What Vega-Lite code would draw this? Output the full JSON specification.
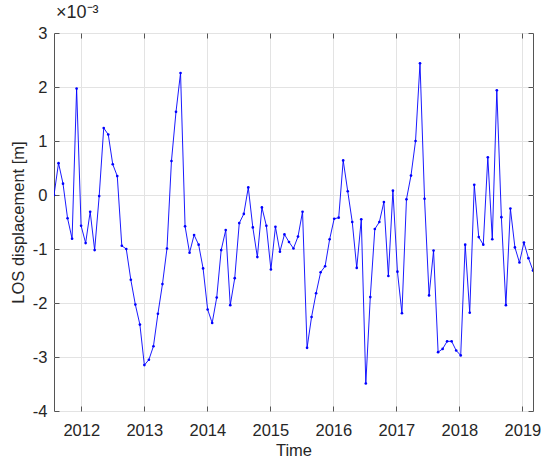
{
  "$schema": "https://vega.github.io/schema/vega-lite/v6.json",
  "width": 479,
  "height": 378,
  "autosize": "none",
  "padding": {"left": 54, "top": 33, "right": 8, "bottom": 49},
  "background": "white",
  "title": {"text": "×10⁻³", "anchor": "start", "frame": "group", "offset": 3, "dx": 2, "fontSize": 18, "font": "Liberation Sans", "fontWeight": "normal", "color": "#262626"},
  "config": {
    "view": {"stroke": "#555555", "strokeWidth": 1},
    "axis": {"labelFont": "Liberation Sans", "titleFont": "Liberation Sans", "labelFontSize": 16.5, "titleFontSize": 16.5, "labelColor": "#262626", "titleColor": "#262626", "titleFontWeight": "normal", "domain": false, "tickColor": "#555555", "gridColor": "#e3e3e3", "gridWidth": 1}
  },
  "data": {"values": [
    {"t": 2011.567, "v": 0.00000}, {"t": 2011.639, "v": 0.00059}, {"t": 2011.710, "v": 0.00021}, {"t": 2011.782, "v": -0.00043},
    {"t": 2011.854, "v": -0.00081}, {"t": 2011.926, "v": 0.00197}, {"t": 2011.997, "v": -0.00057}, {"t": 2012.069, "v": -0.00089},
    {"t": 2012.141, "v": -0.00031}, {"t": 2012.212, "v": -0.00102}, {"t": 2012.284, "v": -0.00002}, {"t": 2012.356, "v": 0.00124},
    {"t": 2012.428, "v": 0.00112}, {"t": 2012.499, "v": 0.00057}, {"t": 2012.571, "v": 0.00035}, {"t": 2012.643, "v": -0.00094},
    {"t": 2012.714, "v": -0.00100}, {"t": 2012.786, "v": -0.00157}, {"t": 2012.858, "v": -0.00203}, {"t": 2012.930, "v": -0.00240},
    {"t": 2013.001, "v": -0.00315}, {"t": 2013.073, "v": -0.00305}, {"t": 2013.145, "v": -0.00280}, {"t": 2013.216, "v": -0.00220},
    {"t": 2013.288, "v": -0.00165}, {"t": 2013.360, "v": -0.00099}, {"t": 2013.431, "v": 0.00063}, {"t": 2013.503, "v": 0.00154},
    {"t": 2013.575, "v": 0.00226}, {"t": 2013.647, "v": -0.00058}, {"t": 2013.718, "v": -0.00107}, {"t": 2013.790, "v": -0.00074},
    {"t": 2013.862, "v": -0.00092}, {"t": 2013.933, "v": -0.00136}, {"t": 2014.005, "v": -0.00212}, {"t": 2014.077, "v": -0.00237},
    {"t": 2014.149, "v": -0.00190}, {"t": 2014.220, "v": -0.00102}, {"t": 2014.292, "v": -0.00065}, {"t": 2014.364, "v": -0.00204},
    {"t": 2014.435, "v": -0.00154}, {"t": 2014.507, "v": -0.00052}, {"t": 2014.579, "v": -0.00035}, {"t": 2014.650, "v": 0.00014},
    {"t": 2014.722, "v": -0.00060}, {"t": 2014.794, "v": -0.00115}, {"t": 2014.866, "v": -0.00023}, {"t": 2014.937, "v": -0.00057},
    {"t": 2015.009, "v": -0.00138}, {"t": 2015.081, "v": -0.00059}, {"t": 2015.152, "v": -0.00105}, {"t": 2015.224, "v": -0.00073},
    {"t": 2015.296, "v": -0.00087}, {"t": 2015.367, "v": -0.00099}, {"t": 2015.439, "v": -0.00077}, {"t": 2015.511, "v": -0.00031},
    {"t": 2015.583, "v": -0.00283}, {"t": 2015.654, "v": -0.00226}, {"t": 2015.726, "v": -0.00182}, {"t": 2015.798, "v": -0.00143},
    {"t": 2015.869, "v": -0.00132}, {"t": 2015.941, "v": -0.00082}, {"t": 2016.013, "v": -0.00044}, {"t": 2016.085, "v": -0.00042},
    {"t": 2016.156, "v": 0.00064}, {"t": 2016.228, "v": 0.00007}, {"t": 2016.300, "v": -0.00050}, {"t": 2016.371, "v": -0.00135},
    {"t": 2016.443, "v": -0.00045}, {"t": 2016.515, "v": -0.00349}, {"t": 2016.586, "v": -0.00189}, {"t": 2016.658, "v": -0.00063},
    {"t": 2016.730, "v": -0.00050}, {"t": 2016.802, "v": -0.00013}, {"t": 2016.873, "v": -0.00150}, {"t": 2016.945, "v": 0.00008},
    {"t": 2017.017, "v": -0.00142}, {"t": 2017.088, "v": -0.00219}, {"t": 2017.160, "v": -0.00008}, {"t": 2017.232, "v": 0.00036},
    {"t": 2017.304, "v": 0.00100}, {"t": 2017.375, "v": 0.00244}, {"t": 2017.447, "v": -0.00007}, {"t": 2017.519, "v": -0.00186},
    {"t": 2017.590, "v": -0.00103}, {"t": 2017.662, "v": -0.00291}, {"t": 2017.734, "v": -0.00285}, {"t": 2017.805, "v": -0.00271},
    {"t": 2017.877, "v": -0.00271}, {"t": 2017.949, "v": -0.00288}, {"t": 2018.021, "v": -0.00297}, {"t": 2018.092, "v": -0.00092},
    {"t": 2018.164, "v": -0.00218}, {"t": 2018.236, "v": 0.00019}, {"t": 2018.307, "v": -0.00078}, {"t": 2018.379, "v": -0.00092},
    {"t": 2018.451, "v": 0.00070}, {"t": 2018.522, "v": -0.00082}, {"t": 2018.594, "v": 0.00194}, {"t": 2018.666, "v": -0.00041},
    {"t": 2018.738, "v": -0.00204}, {"t": 2018.809, "v": -0.00025}, {"t": 2018.881, "v": -0.00097}, {"t": 2018.953, "v": -0.00125},
    {"t": 2019.024, "v": -0.00088}, {"t": 2019.096, "v": -0.00117}, {"t": 2019.168, "v": -0.00140}
  ]},
  "layer": [
    {
      "mark": {"type": "line", "color": "#0000ff", "strokeWidth": 0.9, "clip": true, "point": {"filled": true, "size": 7, "color": "#0000ff"}},
      "encoding": {
        "x": {"field": "t", "type": "quantitative", "title": "Time",
              "scale": {"domain": [2011.567, 2019.168], "nice": false, "zero": false},
              "axis": {"orient": "bottom", "values": [2012, 2013, 2014, 2015, 2016, 2017, 2018, 2019], "format": "d", "grid": true, "tickSize": -5, "labelPadding": 16, "titlePadding": 4}},
        "y": {"field": "v", "type": "quantitative", "title": "LOS displacement [m]",
              "scale": {"domain": [-0.004, 0.003], "nice": false, "zero": false},
              "axis": {"orient": "left", "values": [-0.004, -0.003, -0.002, -0.001, 0, 0.001, 0.002, 0.003], "labelExpr": "round(datum.value*1000) < 0 ? '-' + abs(round(datum.value*1000)) : '' + round(datum.value*1000)", "grid": true, "tickSize": -5, "labelPadding": 12, "titlePadding": 6}}
      }
    },
    {
      "mark": {"type": "line", "opacity": 0},
      "encoding": {
        "x": {"field": "t", "type": "quantitative",
              "axis": {"orient": "top", "values": [2012, 2013, 2014, 2015, 2016, 2017, 2018, 2019], "labels": false, "title": null, "grid": false, "tickSize": -5}},
        "y": {"field": "v", "type": "quantitative",
              "axis": {"orient": "right", "values": [-0.004, -0.003, -0.002, -0.001, 0, 0.001, 0.002, 0.003], "labels": false, "title": null, "grid": false, "tickSize": -5}}
      }
    }
  ],
  "resolve": {"axis": {"x": "independent", "y": "independent"}}
}
